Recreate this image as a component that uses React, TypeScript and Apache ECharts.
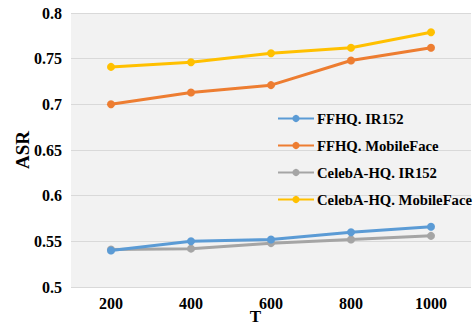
import React, { useEffect, useRef } from "react";
import * as echarts from "echarts";

const categories = ["200", "400", "600", "800", "1000"];
const ffhqIR152 = [0.54, 0.55, 0.552, 0.56, 0.566];
const ffhqMobileFace = [0.7, 0.713, 0.721, 0.748, 0.762];
const celebIR152 = [0.541, 0.542, 0.548, 0.552, 0.556];
const celebMobileFace = [0.741, 0.746, 0.756, 0.762, 0.779];
const seriesNames = [
  "FFHQ. IR152",
  "FFHQ. MobileFace",
  "CelebA-HQ. IR152",
  "CelebA-HQ. MobileFace",
];
const seriesColors = ["#5b9bd5", "#ed7d31", "#a5a5a5", "#ffc000"];

const FONT = "'Liberation Serif', 'Times New Roman', serif";

export default function App() {
  const ref = useRef<HTMLDivElement>(null);
  useEffect(() => {
    if (!ref.current) return;
    const chart = echarts.init(ref.current, null, { renderer: "svg" });
    const dataSets = [ffhqIR152, ffhqMobileFace, celebIR152, celebMobileFace];
    chart.setOption({
      animation: false,
      backgroundColor: "#ffffff",
      textStyle: { fontFamily: FONT },
      grid: {
        left: 71,
        top: 13,
        width: 400,
        height: 274,
        show: true,
        backgroundColor: "#f2f2f2",
        borderWidth: 0,
        containLabel: false,
        outerBoundsMode: "none",
      },
      legend: {
        orient: "vertical",
        left: 277,
        top: 111,
        padding: 0,
        itemWidth: 36,
        itemHeight: 9,
        itemGap: 12,
        data: seriesNames,
        textStyle: {
          fontFamily: FONT,
          fontWeight: "bold",
          fontSize: 14.7,
          color: "#000",
          padding: [0, 0, 0, -2],
        },
      },
      xAxis: {
        type: "category",
        data: categories,
        boundaryGap: true,
        name: "T",
        nameLocation: "middle",
        nameGap: 23,
        nameMoveOverlap: false,
        nameTextStyle: {
          fontFamily: FONT,
          fontWeight: "bold",
          fontSize: 17,
          lineHeight: 13,
          color: "#000",
          padding: [0, 31, 0, 0],
        },
        axisLine: { show: false },
        axisTick: { show: false },
        axisLabel: {
          fontFamily: FONT,
          fontWeight: "bold",
          fontSize: 16,
          color: "#000",
          margin: 8,
        },
      },
      yAxis: {
        type: "value",
        min: 0.5,
        max: 0.8,
        interval: 0.05,
        name: "ASR",
        nameLocation: "middle",
        nameGap: 39,
        nameMoveOverlap: false,
        nameTextStyle: {
          fontFamily: FONT,
          fontWeight: "bold",
          fontSize: 19,
          color: "#000",
        },
        axisLine: { show: false },
        axisTick: { show: false },
        axisLabel: {
          fontFamily: FONT,
          fontWeight: "bold",
          fontSize: 16,
          color: "#000",
          margin: 9,
          formatter: (v: number) => String(parseFloat(v.toFixed(2))),
        },
        splitLine: { lineStyle: { color: "#d9d9d9", width: 1 } },
      },
      series: seriesNames.map((name, i) => ({
        name,
        type: "line",
        data: dataSets[i],
        color: seriesColors[i],
        symbol: "circle",
        symbolSize: 8,
        lineStyle: { width: 3, color: seriesColors[i] },
        itemStyle: { color: seriesColors[i] },
        z: i === 0 ? 3 : 2,
      })),
    });
    return () => chart.dispose();
  }, []);
  return (
    <div
      ref={ref}
      style={{ position: "absolute", left: 0, top: 0, width: 474, height: 327 }}
    />
  );
}
